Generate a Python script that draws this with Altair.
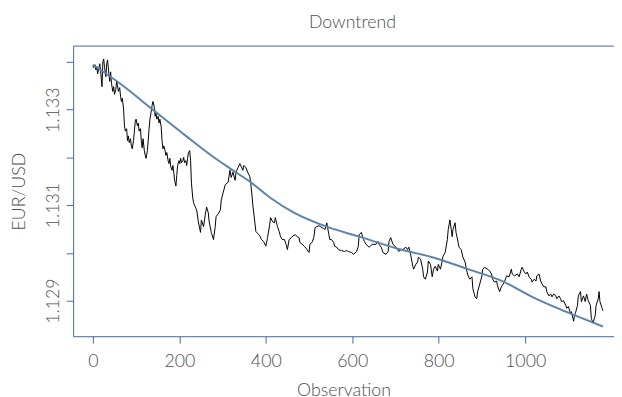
import altair as alt
import pandas as pd

# ---- black series: observation index and EUR/USD rate ----
obs_a = [0,2,5,7,9,11,14,16,18,21,23,25,27,30,32,34,37,39,41,43,
         46,48,50,53,55,57,59,62,64,66,68,71,73,75,78,80,82,84,87,89,
         91,94,96,98,100,103,105,107,110,112,114,116,119,121,123,126,128,130,132,135,
         137,139,142,144,146,148,151,153,155,158,160,162,164,167,169,171,174,176,178,180,
         183,185,187,189,192,194,196,199,201,203,205,208,210,212,215,217,219,221,224,226,
         228,231,233]
val_a = [1.13392,1.13388,1.13394,1.13383,1.13390,1.13375,1.13388,1.13396,1.13379,1.13348,1.13400,1.13406,1.13388,1.13369,1.13396,1.13404,1.13375,1.13359,1.13379,1.13355,
         1.13338,1.13348,1.13332,1.13342,1.13359,1.13350,1.13338,1.13346,1.13328,1.13317,1.13324,1.13301,1.13266,1.13255,1.13260,1.13235,1.13245,1.13231,1.13239,1.13224,
         1.13218,1.13235,1.13255,1.13276,1.13280,1.13266,1.13272,1.13255,1.13260,1.13235,1.13220,1.13239,1.13214,1.13204,1.13198,1.13214,1.13235,1.13260,1.13280,1.13297,
         1.13309,1.13317,1.13305,1.13286,1.13293,1.13280,1.13286,1.13272,1.13280,1.13264,1.13235,1.13218,1.13224,1.13214,1.13204,1.13210,1.13193,1.13187,1.13198,1.13181,
         1.13173,1.13183,1.13169,1.13152,1.13140,1.13162,1.13183,1.13193,1.13187,1.13198,1.13189,1.13193,1.13200,1.13189,1.13193,1.13183,1.13198,1.13210,1.13214,1.13193,
         1.13146,1.13115,1.13105]

obs_b = [235,240,244,249,251,256,260,263,267,269,274,279,283,285,290,295,297,301,306,310,
         313,317,320,324,329,331,336,340,347,349,354,358,363,365,368,370,374,377,381,386,
         390,395,400,404,409,411,416,420,422,427,431,434,438,443,447,450,454,459,463,468,473]
val_b = [1.13100,1.13090,1.13065,1.13043,1.13069,1.13055,1.13080,1.13096,1.13084,1.13065,1.13043,1.13028,1.13055,1.13076,1.13082,1.13090,1.13111,1.13125,1.13142,1.13146,
         1.13148,1.13173,1.13158,1.13169,1.13152,1.13169,1.13179,1.13187,1.13173,1.13183,1.13179,1.13169,1.13160,1.13146,1.13121,1.13100,1.13069,1.13045,1.13041,1.13036,
         1.13028,1.13024,1.13014,1.13032,1.13059,1.13074,1.13065,1.13063,1.13074,1.13055,1.13045,1.13034,1.13028,1.13028,1.13018,1.13007,1.13028,1.13032,1.13036,1.13038,1.13034]

obs_c = [477,479,484,489,493,495,500,502,507,511,514,518,523,530,534,537,541,546,548,552,
         557,559,564,568,575,582,587,591,598,603,610,614,616,621,626,628,632,639,644,648,
         655,660,662,667,671,678,683,685,689,694,701]
val_c = [1.13032,1.13022,1.13018,1.13014,1.13010,1.13007,1.13001,1.13018,1.13022,1.13032,1.13053,1.13055,1.13057,1.13053,1.13051,1.13049,1.13063,1.13038,1.13028,1.13028,
         1.13022,1.13014,1.13012,1.13007,1.13005,1.13003,1.13005,1.13003,1.13001,1.12997,1.13003,1.13014,1.13038,1.13043,1.13028,1.13024,1.13018,1.13012,1.13016,1.13018,
         1.13018,1.13024,1.13018,1.13012,1.13001,1.12997,1.13003,1.13024,1.13032,1.13018,1.13012]

obs_d = [708,712,717,724,728,731,735,740,742,747,751,753,758,763,765,769,774,776,781,785,
         788,792,797,799,804,808,810,815,820,822,826,829,831,833,838,840,845,847,852,856,
         861,865,868,872,877,879,884,888,890,895,900,902,906,913,918,922,925,929,934,936,941]
val_d = [1.13003,1.13007,1.13007,1.13012,1.13007,1.13012,1.12997,1.12972,1.12966,1.12976,1.12981,1.12991,1.12987,1.12966,1.12950,1.12945,1.12960,1.12983,1.12976,1.12950,
         1.12966,1.12972,1.12962,1.12976,1.12966,1.12983,1.12993,1.13001,1.13028,1.13049,1.13069,1.13049,1.13034,1.13049,1.13063,1.13043,1.13022,1.13012,1.13007,1.12991,
         1.12981,1.12962,1.12952,1.12945,1.12950,1.12925,1.12908,1.12904,1.12919,1.12935,1.12952,1.12966,1.12970,1.12966,1.12962,1.12956,1.12945,1.12939,1.12941,1.12931,1.12919]

obs_e = [945,952,957,963,968,970,975,982,986,991,993,998,1002,1005,1009,1014,1016,1021,1025,1027,
         1032,1036,1039,1043,1048,1050,1055,1059,1062,1066,1071,1073,1078,1082,1084,1089,1094,1096,1100,1105,
         1107,1112,1114,1116,1121,1123,1128,1130,1135,1139,1142,1146,1151,1153,1157,1162,1164,1169,1171,1173,1178,1180]
val_e = [1.12929,1.12939,1.12952,1.12950,1.12966,1.12956,1.12952,1.12956,1.12950,1.12966,1.12970,1.12960,1.12956,1.12960,1.12950,1.12945,1.12939,1.12945,1.12941,1.12952,
         1.12956,1.12941,1.12935,1.12929,1.12929,1.12919,1.12910,1.12914,1.12908,1.12914,1.12910,1.12904,1.12910,1.12904,1.12898,1.12900,1.12890,1.12884,1.12888,1.12873,
         1.12877,1.12857,1.12869,1.12873,1.12890,1.12910,1.12919,1.12898,1.12910,1.12898,1.12914,1.12900,1.12890,1.12863,1.12853,1.12869,1.12890,1.12904,1.12919,1.12898,1.12884,1.12879]

# ---- smooth trend (blue) ----
trend_obs = [0, 62, 137, 215, 274, 317, 365, 411, 466, 541, 616, 712, 785, 868, 952, 1016, 1094, 1180]
trend_val = [1.13394, 1.13355, 1.13301, 1.13245, 1.13204, 1.13177, 1.13148, 1.13115, 1.13084,
             1.13055, 1.13034, 1.13007, 1.12991, 1.12966, 1.12939, 1.12908, 1.12877, 1.12846]

x_ticks = [0, 200, 400, 600, 800, 1000]
y_ticks = [1.129, 1.130, 1.131, 1.132, 1.133, 1.134]

black = pd.DataFrame({"obs": obs_a + obs_b + obs_c + obs_d + obs_e,
                      "rate": val_a + val_b + val_c + val_d + val_e})
trend = pd.DataFrame({"obs": trend_obs, "rate": trend_val})
one = pd.DataFrame({"k": [0]})

FRAME = "#41699a"
TREND = "#5b83ab"
TEXT = "#4d4d4d"
FONT = "Lato"
W, H = 548, 294

xscale = alt.Scale(domain=[-45.7, 1205.5], nice=False, zero=False)
yscale = alt.Scale(domain=[1.128256, 1.13433], nice=False, zero=False)

xaxis = alt.Axis(values=x_ticks, format="d", title="Observation", grid=False, tickSize=7,
                 labelPadding=10, labelFlush=False, labelOverlap=False,
                 titleY=46, titleBaseline="top")
yaxis = alt.Axis(values=y_ticks, title="EUR/USD", grid=False, tickSize=7,
                 labelExpr="(abs(datum.value-1.129)<1e-7 || abs(datum.value-1.131)<1e-7 || abs(datum.value-1.133)<1e-7) ? format(datum.value, '.3f') : ''",
                 labelAngle=270, labelAlign="center", labelBaseline="middle",
                 labelPadding=13, labelOverlap=False, labelFlush=False,
                 titleAngle=270, titleX=-54, titleY=147, titleAlign="center", titleBaseline="middle")

series = alt.Chart(black).mark_line(color="black", strokeWidth=1).encode(
    x=alt.X("obs:Q", scale=xscale, axis=xaxis),
    y=alt.Y("rate:Q", scale=yscale, axis=yaxis),
)
trend_line = alt.Chart(trend).mark_line(color=TREND, strokeWidth=2, interpolate="monotone").encode(
    x=alt.X("obs:Q", scale=xscale),
    y=alt.Y("rate:Q", scale=yscale),
)
top_border = alt.Chart(one).mark_rule(color=FRAME, strokeWidth=1).encode(
    x=alt.value(0), x2=alt.value(W), y=alt.value(0)
)

chart = alt.layer(series, trend_line, top_border).properties(
    width=W, height=H,
    autosize=alt.AutoSizeParams(type="none"),
    padding={"left": 66, "top": 36, "right": 0, "bottom": 59},
    title=alt.TitleParams("Downtrend", font=FONT, fontSize=18, fontWeight=300,
                          color=TEXT, offset=14, dx=9),
).configure_view(stroke=None).configure_axis(
    labelFont=FONT, titleFont=FONT, labelFontSize=18, titleFontSize=18,
    labelFontWeight=300, titleFontWeight=300,
    labelColor=TEXT, titleColor=TEXT,
    domainColor=FRAME, tickColor=FRAME, domainWidth=1, tickWidth=1,
)

chart.save("out.html", embed_options={"renderer": "svg", "actions": False})
